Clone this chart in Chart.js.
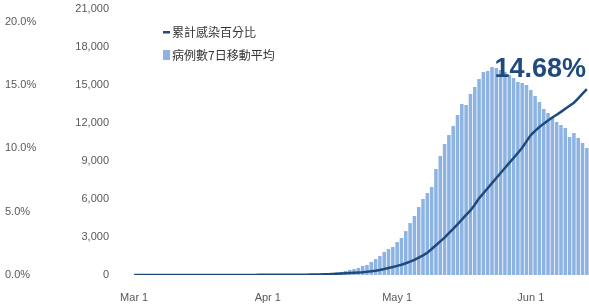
<!DOCTYPE html>
<html>
<head>
<meta charset="utf-8">
<script src="https://cdn.jsdelivr.net/npm/chart.js@4.4.1/dist/chart.umd.min.js"></script>
<style>
  html, body { margin: 0; padding: 0; background: #fff; }
</style>
</head>
<body>
<canvas id="chart" width="589" height="305"></canvas>
<script>
// 日付（3/1 から 6/14 まで）
const startDate = new Date(2022, 2, 1);
const dayCount = 106;
const tickLabels = ['Mar 1', 'Apr 1', 'May 1', 'Jun 1'];
const tickIndex = [0, 31, 61, 92];

// 病例數7日移動平均
const cases = [
  0, 0, 0, 0, 0, 0, 0, 0, 0, 0,
  1, 1, 1, 1, 2, 2, 2, 2, 3, 3,
  3, 4, 4, 5, 5, 6, 7, 8, 9, 10,
  12, 14, 16, 18, 20, 23, 26, 30, 34, 38,
  45, 55, 68, 82, 100, 125, 155, 195,
  240, 320, 400, 470, 560, 710, 790, 1030, 1260, 1500,
  1820, 2050, 2210, 2600, 2920, 3470, 4100, 4660, 5370, 6000,
  6470, 6950, 8370, 9400, 10340, 11050, 11760, 12630, 13500, 13420,
  14290, 14840, 15470, 16030, 16100, 16420, 16340, 16180, 16030, 15790,
  15550, 15240, 15160, 15000, 14610, 14130, 13660, 13110, 12790, 12470,
  12080, 11840, 11610, 10900, 11210, 10820, 10420, 10030
];

// 累計感染百分比 (%)
const percent = [
  0, 0, 0, 0, 0, 0, 0, 0, 0, 0,
  0, 0, 0, 0, 0, 0, 0, 0, 0, 0,
  0, 0, 0, 0, 0, 0, 0, 0, 0, 0.01,
  0.01, 0.01, 0.01, 0.01, 0.01, 0.01, 0.01, 0.01, 0.02, 0.02,
  0.02, 0.03, 0.03, 0.04, 0.05, 0.06, 0.08, 0.10,
  0.12, 0.14, 0.16, 0.18, 0.20, 0.22, 0.25, 0.29, 0.34, 0.40,
  0.47, 0.55, 0.63, 0.72, 0.81, 0.93, 1.06, 1.20, 1.37, 1.55,
  1.75, 2.05, 2.35, 2.65, 2.95, 3.30, 3.65, 4.00, 4.38, 4.74,
  5.10, 5.55, 6.05, 6.45, 6.85, 7.25, 7.66, 8.05, 8.45, 8.85,
  9.24, 9.63, 10.05, 10.55, 11.05, 11.38, 11.68, 11.95, 12.20, 12.43,
  12.65, 12.88, 13.12, 13.36, 13.60, 13.95, 14.32, 14.68
];

const labels = [];
for (let i = 0; i < dayCount; i++) {
  const d = new Date(startDate.getTime() + i * 86400000);
  labels.push((d.getMonth() + 1) + '/' + d.getDate());
}

const lineColor = '#1f4a7e';
const barColor = '#8db3e2';
const tickColor = '#595959';
const latinFont = '"Liberation Sans", Arial, sans-serif';
const cjkFont = '"Noto Sans CJK TC", "Noto Sans CJK SC", sans-serif';

// 軸の自動余白を消す
function noPad(s) {
  s.paddingTop = 0;
  s.paddingBottom = 0;
  s.paddingLeft = 0;
  s.paddingRight = 0;
}

// 凡例と最終値の注記
const overlay = {
  id: 'overlay',
  afterDraw(chart) {
    const ctx = chart.ctx;
    ctx.save();
    // 凡例
    ctx.fillStyle = lineColor;
    ctx.fillRect(163, 31, 7, 2.5);
    ctx.fillStyle = barColor;
    ctx.fillRect(163, 50, 7, 10);
    ctx.fillStyle = '#333333';
    ctx.font = '12px ' + cjkFont;
    ctx.textBaseline = 'middle';
    ctx.textAlign = 'left';
    ctx.fillText('累計感染百分比', 172, 32);
    ctx.fillText('病例數7日移動平均', 172, 55);
    // 注記
    ctx.fillStyle = lineColor;
    ctx.font = 'bold 27px ' + latinFont;
    ctx.textAlign = 'right';
    ctx.textBaseline = 'alphabetic';
    ctx.fillText(percent[percent.length - 1].toFixed(2) + '%', 586, 77);
    ctx.restore();
  }
};

new Chart(document.getElementById('chart'), {
  type: 'bar',
  data: {
    labels: labels,
    datasets: [
      {
        type: 'line',
        label: '累計感染百分比',
        data: percent,
        yAxisID: 'yPct',
        borderColor: lineColor,
        borderWidth: 2.5,
        pointRadius: 0,
        tension: 0,
        order: 0
      },
      {
        type: 'bar',
        label: '病例數7日移動平均',
        data: cases,
        yAxisID: 'yCases',
        backgroundColor: barColor,
        barPercentage: 0.82,
        categoryPercentage: 1.0,
        order: 1
      }
    ]
  },
  options: {
    responsive: false,
    devicePixelRatio: 1,
    animation: false,
    layout: { padding: { top: 9, right: 0, left: 5, bottom: 0 } },
    plugins: {
      legend: { display: false },
      tooltip: { enabled: false }
    },
    scales: {
      x: {
        grid: { display: false, drawTicks: false },
        border: { display: false },
        afterFit: s => { noPad(s); s.height = 30; },
        ticks: {
          autoSkip: false,
          maxRotation: 0,
          padding: 16,
          color: tickColor,
          font: { family: latinFont, size: 11 },
          callback: (v, i) => {
            const k = tickIndex.indexOf(i);
            return k >= 0 ? tickLabels[k] : '';
          }
        }
      },
      yPct: {
        position: 'left',
        weight: 1,
        min: 0,
        max: 21,
        grid: { display: false, drawTicks: false },
        border: { display: false },
        afterFit: s => { noPad(s); s.width = 44; },
        ticks: {
          stepSize: 5,
          includeBounds: false,
          crossAlign: 'far',
          color: tickColor,
          font: { family: latinFont, size: 11 },
          callback: v => v.toFixed(1) + '%'
        }
      },
      yCases: {
        position: 'left',
        weight: 0,
        min: 0,
        max: 21000,
        grid: { display: false, drawTicks: false },
        border: { display: false },
        afterFit: s => { noPad(s); s.width = 83; },
        ticks: {
          stepSize: 3000,
          padding: 23,
          color: tickColor,
          font: { family: latinFont, size: 11 },
          callback: v => v.toLocaleString('en-US')
        }
      }
    }
  },
  plugins: [overlay]
});
</script>
</body>
</html>
